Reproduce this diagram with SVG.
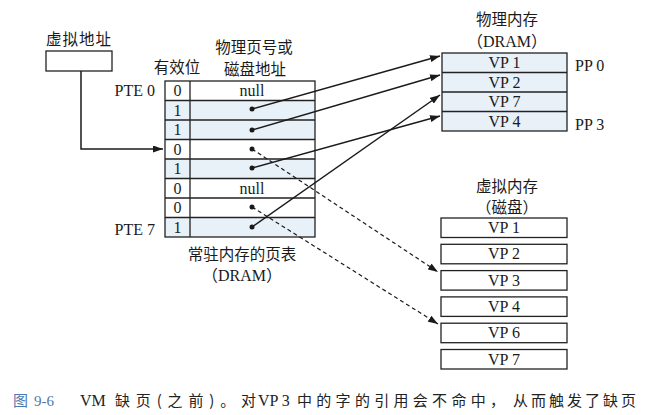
<svg xmlns="http://www.w3.org/2000/svg" width="646" height="415" viewBox="0 0 646 415">
<defs>
<style>
.t{font-family:'Liberation Serif','Times New Roman','DejaVu Serif',serif;font-size:16px;fill:#1a1a1a}
.z{font-family:'Noto Sans CJK SC','Noto Sans CJK JP',sans-serif;font-size:15.5px;fill:#1a1a1a}
.m{font-family:'Liberation Serif','Noto Sans CJK SC',serif;font-size:16px;fill:#1a1a1a}
.c{text-anchor:middle}
.box{fill:#fff;stroke:#222;stroke-width:1.3}
.sh{fill:#e8f0f8;stroke:none}
.ln{stroke:#222;stroke-width:1.3;fill:none}
.con{stroke:#1a1a1a;stroke-width:1.5;fill:none}
.dash{stroke-dasharray:4,3;stroke-width:1.2}
.dot{fill:#1a1a1a}
.capl{font-family:'Liberation Serif','Times New Roman',serif;font-size:16px;fill:#222}
.capz{font-family:'Noto Sans CJK SC',sans-serif;font-size:15px;fill:#222}
</style>
<marker id="ah" viewBox="0 0 10 7" markerWidth="10" markerHeight="7" refX="10" refY="3.5" orient="auto" markerUnits="userSpaceOnUse">
<path d="M0,0 L10,3.5 L0,7 z" fill="#1a1a1a"/>
</marker>
</defs>
<rect width="646" height="415" fill="#fff"/>

<g id="va">
<text class="z" x="46" y="45" textLength="65">虚拟地址</text>
<rect class="box" x="46" y="51" width="66" height="20"/>
</g>

<g id="pagetable">
<text class="z c" x="177" y="73">有效位</text>
<text class="z c" x="254" y="53">物理页号或</text>
<text class="z c" x="255" y="75">磁盘地址</text>
<rect class="sh" x="165" y="100.5" width="150" height="39"/>
<rect class="sh" x="165" y="159" width="150" height="19.5"/>
<rect class="sh" x="165" y="217.5" width="150" height="19.5"/>
<rect x="165" y="81" width="150" height="156" fill="none" stroke="#222" stroke-width="1.3"/>
<path class="ln" d="M190,81 V237 M165,100.5 H315 M165,120 H315 M165,139.5 H315 M165,159 H315 M165,178.5 H315 M165,198 H315 M165,217.5 H315"/>
<text class="t c" x="177.5" y="96">0</text>
<text class="t c" x="177.5" y="115.5">1</text>
<text class="t c" x="177.5" y="135">1</text>
<text class="t c" x="177.5" y="154.5">0</text>
<text class="t c" x="177.5" y="174">1</text>
<text class="t c" x="177.5" y="193.5">0</text>
<text class="t c" x="177.5" y="213">0</text>
<text class="t c" x="177.5" y="232.5">1</text>
<text class="t c" x="252" y="96">null</text>
<text class="t c" x="252" y="193.5">null</text>
<circle class="dot" cx="252" cy="109" r="2.5"/>
<circle class="dot" cx="252" cy="130" r="2.5"/>
<circle class="dot" cx="252" cy="149" r="2.5"/>
<circle class="dot" cx="252" cy="168" r="2.5"/>
<circle class="dot" cx="252" cy="207" r="2.5"/>
<circle class="dot" cx="252" cy="227" r="2.5"/>
<text class="t" x="155" y="96" text-anchor="end">PTE 0</text>
<text class="t" x="155" y="235" text-anchor="end">PTE 7</text>
<text class="z c" x="242" y="260">常驻内存的页表</text>
<text class="m c" x="242" y="281">（DRAM）</text>
</g>

<g id="physmem">
<text class="z c" x="507" y="25">物理内存</text>
<text class="m c" x="507" y="47">（DRAM）</text>
<rect x="442" y="53" width="125" height="78" fill="#e8f0f8" stroke="#222" stroke-width="1.3"/>
<path class="ln" d="M442,72.5 H567 M442,92 H567 M442,111.5 H567"/>
<text class="t c" x="504.5" y="68">VP 1</text>
<text class="t c" x="504.5" y="87.5">VP 2</text>
<text class="t c" x="504.5" y="107">VP 7</text>
<text class="t c" x="504.5" y="126.5">VP 4</text>
<text class="t" x="575" y="71">PP 0</text>
<text class="t" x="575" y="130">PP 3</text>
</g>

<g id="disk">
<text class="z c" x="507" y="192">虚拟内存</text>
<text class="z c" x="507" y="213">（磁盘）</text>
<rect class="box" x="441" y="218" width="126" height="19.5"/>
<rect class="box" x="441" y="244.3" width="126" height="19.5"/>
<rect class="box" x="441" y="270.6" width="126" height="19.5"/>
<rect class="box" x="441" y="296.9" width="126" height="19.5"/>
<rect class="box" x="441" y="323.2" width="126" height="19.5"/>
<rect class="box" x="441" y="349.5" width="126" height="19.5"/>
<text class="t c" x="504" y="233">VP 1</text>
<text class="t c" x="504" y="259.3">VP 2</text>
<text class="t c" x="504" y="285.6">VP 3</text>
<text class="t c" x="504" y="311.9">VP 4</text>
<text class="t c" x="504" y="338.2">VP 6</text>
<text class="t c" x="504" y="364.5">VP 7</text>
</g>

<g id="connectors">
<path class="con" d="M81,71 V149 H163" marker-end="url(#ah)"/>
<path class="con" d="M252,109 L440,56" marker-end="url(#ah)"/>
<path class="con" d="M252,130 L440,75" marker-end="url(#ah)"/>
<path class="con" d="M252,168 L440,116" marker-end="url(#ah)"/>
<path class="con" d="M252,227 L440,95" marker-end="url(#ah)"/>
<path class="con dash" d="M252,149 L438,272" marker-end="url(#ah)"/>
<path class="con dash" d="M252,207 L438,324" marker-end="url(#ah)"/>
</g>

<g id="caption">
<text class="capz" x="13" y="406" style="fill:#4f78b0">图</text>
<text class="capl" x="34" y="406" style="fill:#4f78b0;font-size:15px">9-6</text>
<text class="capl" x="80" y="406">VM</text>
<text class="capz" x="115" y="406" textLength="141" lengthAdjust="spacing">缺页(之前)。对</text>
<text class="capl" x="258" y="406">VP 3</text>
<text class="capz" x="297" y="406" textLength="208" lengthAdjust="spacing">中的字的引用会不命中，</text>
<text class="capz" x="513" y="406" textLength="123" lengthAdjust="spacing">从而触发了缺页</text>
</g>
</svg>
